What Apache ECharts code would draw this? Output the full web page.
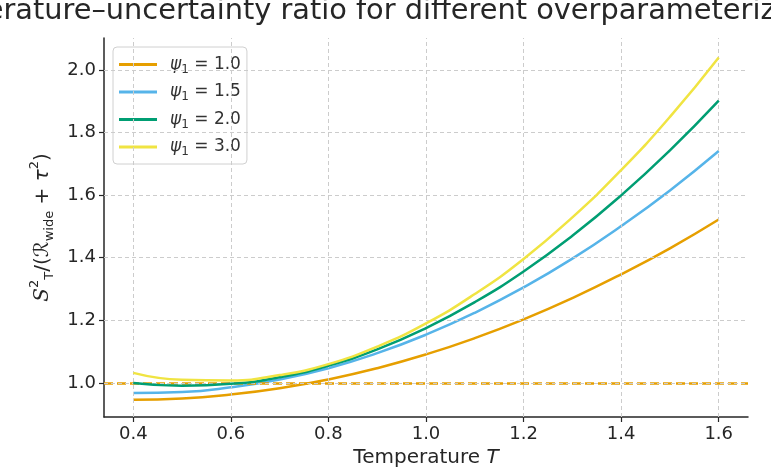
<!DOCTYPE html>
<html><head><meta charset="utf-8">
<script src="https://cdn.jsdelivr.net/npm/echarts@6/dist/echarts.min.js"></script>
<style>html,body{margin:0;padding:0;background:#fff}#c{width:771px;height:469px}</style>
</head><body><div id="c"></div>
<script>
const temps = [0.4,0.5,0.6,0.7,0.8,0.9,1.0,1.1,1.2,1.3,1.4,1.5,1.6];
const psi10 = [0.946,0.950,0.963,0.983,1.011,1.047,1.091,1.143,1.203,1.271,1.347,1.430,1.522];
const psi15 = [0.968,0.971,0.986,1.011,1.047,1.095,1.154,1.224,1.305,1.397,1.501,1.615,1.741];
const psi20 = [1.000,0.991,0.997,1.018,1.055,1.107,1.175,1.258,1.356,1.470,1.599,1.743,1.902];
const psi30 = [1.032,1.010,1.008,1.025,1.060,1.116,1.190,1.284,1.396,1.529,1.680,1.850,2.040];
const seriesNames = ['1.0','1.5','2.0','3.0'];
const colors = ['#E69F00','#56B4E9','#009E73','#F0E442'];
const xTicks = [0.4,0.6,0.8,1.0,1.2,1.4,1.6];
const yTicks = [1.0,1.2,1.4,1.6,1.8,2.0];
const refLevel = 1.0;
const titleText = 'Temperature–uncertainty ratio for different overparameterization levels';

const font = 'DejaVu Sans';
const all = [psi10,psi15,psi20,psi30];
const series = all.map((arr,i)=>({
  name: seriesNames[i], type:'line', smooth:true, showSymbol:false, symbol:'none',
  data: temps.map((t,j)=>[t,arr[j]]),
  lineStyle:{color:colors[i], width:2.5}, itemStyle:{color:colors[i]}, z:3+i
}));
series.push({
  name:'ref', type:'line', data:[], silent:true,
  markLine:{symbol:'none', silent:true, label:{show:false},
    lineStyle:{color:'#E69F00', width:2.7, type:[9,4]},
    data:[{yAxis:refLevel}]}, z:10
});
series.push({
  name:'grid', type:'line', data:[], silent:true, z:1,
  markLine:{symbol:'none', silent:true, label:{show:false}, animation:false,
    lineStyle:{color:'#cccccc', width:1, type:[4,3]},
    data: xTicks.map(v=>({xAxis:v})).concat(yTicks.map(v=>({yAxis:v})))}
});
const chart = echarts.init(document.getElementById('c'));
chart.setOption({
  animation:false,
  backgroundColor:'#fff',
  graphic:[{type:'text', x:425, y:-3, silent:true,
    style:{text:titleText, align:'center', verticalAlign:'top',
      font:'28.8px "DejaVu Sans"', fill:'#262626'}}],
  grid:{left:104, right:23, top:38, bottom:52, containLabel:false, outerBoundsMode:'none'},
  legend:{orient:'vertical', left:113, top:47, data:seriesNames,
    icon:'rect', itemWidth:38, itemHeight:3, itemGap:8,
    padding:[9,6,6,6], borderColor:'#d0d0d0', borderWidth:1, borderRadius:4,
    backgroundColor:'rgba(255,255,255,0.8)',
    formatter: n => '{i|ψ}{s|1}{n| = ' + n + '}',
    textStyle:{fontFamily:font, fontSize:17, color:'#333',
      rich:{i:{fontStyle:'italic', fontSize:17, fontFamily:font, color:'#333', padding:[0,0,0,8]},
            s:{fontSize:12, fontFamily:font, color:'#333', verticalAlign:'bottom', lineHeight:22},
            n:{fontSize:17, fontFamily:font, color:'#333'}}}},
  xAxis:{type:'value', min:0.34, max:1.66,
    name:'Temperature {i|T}', nameLocation:'middle', nameGap:31,
    nameTextStyle:{fontFamily:font, fontSize:20, color:'#262626', rich:{i:{fontStyle:'italic', fontSize:20, fontFamily:font, color:'#262626'}}},
    axisLine:{lineStyle:{color:'#262626', width:1.5}},
    axisTick:{customValues:xTicks, length:5, lineStyle:{color:'#262626', width:1.2}},
    axisLabel:{customValues:xTicks, fontFamily:font, fontSize:18, color:'#262626', margin:8, formatter:v=>v.toFixed(1)},
    splitLine:{show:false}},
  yAxis:{type:'value', min:0.891, max:2.102,
    name:'{s|S}{sup|2}{sub|T}{n|/(}{r|ℛ}{sub|wide}{n| + }{i|τ}{sup|2}{n|)}',
    nameLocation:'middle', nameGap:47, nameRotate:90,
    nameTextStyle:{fontFamily:font, fontSize:20, color:'#262626',
      rich:{s:{fontFamily:'DejaVu Serif', fontStyle:'italic', fontSize:20, color:'#262626', lineHeight:28},
            r:{fontFamily:font, fontSize:20, color:'#262626', lineHeight:28},
            i:{fontFamily:font, fontStyle:'italic', fontSize:20, color:'#262626', lineHeight:28},
            n:{fontFamily:font, fontSize:20, color:'#262626', lineHeight:28},
            sup:{fontFamily:font, fontSize:13, color:'#262626', verticalAlign:'top', lineHeight:13},
            sub:{fontFamily:font, fontSize:13, color:'#262626', verticalAlign:'bottom', lineHeight:13}}},
    axisLine:{show:true, lineStyle:{color:'#262626', width:1.5}},
    axisTick:{show:true, customValues:yTicks, length:5, lineStyle:{color:'#262626', width:1.2}},
    axisLabel:{customValues:yTicks, fontFamily:font, fontSize:18, color:'#262626', margin:8, formatter:v=>v.toFixed(1)},
    splitLine:{show:false}},
  series: series
});
</script></body></html>
